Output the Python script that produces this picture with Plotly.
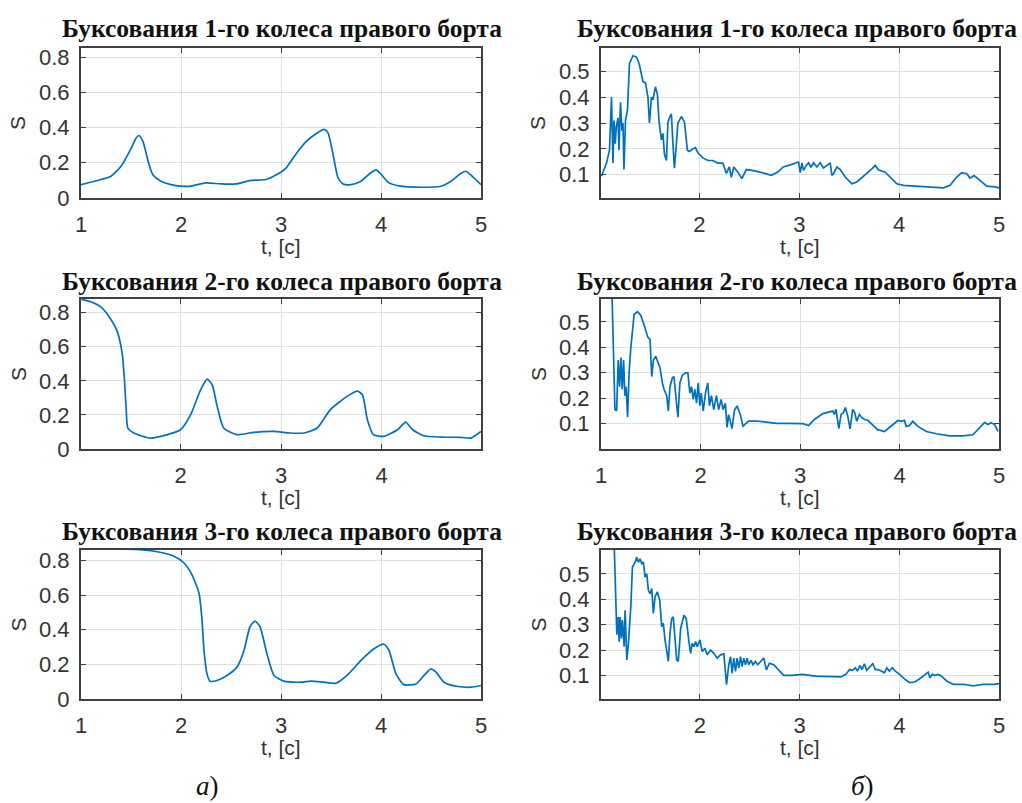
import plotly.graph_objects as go

# ---------------- data ----------------
t_a1 = [1.0, 1.2, 1.3, 1.4, 1.5, 1.55, 1.58, 1.62, 1.68, 1.72, 1.8, 1.9, 2.0, 2.1, 2.25, 2.4, 2.55, 2.7,
        2.85, 2.95, 3.05, 3.15, 3.25, 3.35, 3.43, 3.47, 3.52, 3.57, 3.62, 3.7, 3.8, 3.88, 3.95, 4.0, 4.08,
        4.2, 4.4, 4.6, 4.7, 4.8, 4.85, 4.9, 5.0]
s_a1 = [0.076, 0.105, 0.124, 0.18, 0.28, 0.34, 0.355, 0.32, 0.19, 0.13, 0.095, 0.076, 0.067, 0.067, 0.086,
        0.08, 0.08, 0.1, 0.105, 0.13, 0.17, 0.25, 0.32, 0.365, 0.39, 0.37, 0.25, 0.115, 0.08, 0.076, 0.095,
        0.135, 0.16, 0.135, 0.086, 0.067, 0.061, 0.067, 0.095, 0.14, 0.152, 0.13, 0.076]

t_a2 = [1.015, 1.105, 1.204, 1.30, 1.37, 1.42, 1.44, 1.46, 1.476, 1.535, 1.70, 1.87, 2.0, 2.1, 2.2, 2.265,
        2.315, 2.365, 2.43, 2.56, 2.73, 2.93, 3.09, 3.23, 3.36, 3.49, 3.66, 3.76, 3.81, 3.86, 3.92, 4.02,
        4.16, 4.24, 4.31, 4.42, 4.59, 4.79, 4.89, 4.99]
s_a2 = [0.878, 0.864, 0.835, 0.767, 0.69, 0.56, 0.425, 0.23, 0.123, 0.094, 0.064, 0.084, 0.113, 0.2, 0.347,
        0.41, 0.377, 0.25, 0.123, 0.084, 0.098, 0.103, 0.094, 0.094, 0.123, 0.23, 0.31, 0.34, 0.318, 0.17,
        0.084, 0.074, 0.113, 0.158, 0.113, 0.078, 0.07, 0.068, 0.064, 0.103]

t_a3 = [1.34, 1.59, 1.79, 1.93, 2.03, 2.11, 2.18, 2.21, 2.23, 2.26, 2.29, 2.36, 2.46, 2.56, 2.63, 2.69,
        2.74, 2.79, 2.86, 2.93, 3.03, 3.2, 3.3, 3.43, 3.55, 3.66, 3.8, 3.93, 4.03, 4.08, 4.15, 4.23, 4.35,
        4.43, 4.5, 4.55, 4.63, 4.77, 4.9, 5.0]
s_a3 = [0.866, 0.862, 0.847, 0.824, 0.785, 0.717, 0.61, 0.455, 0.28, 0.145, 0.103, 0.107, 0.136, 0.184,
        0.28, 0.417, 0.45, 0.417, 0.26, 0.136, 0.103, 0.097, 0.103, 0.097, 0.091, 0.136, 0.223, 0.29, 0.316,
        0.28, 0.145, 0.083, 0.087, 0.136, 0.174, 0.155, 0.097, 0.072, 0.068, 0.078]

t_b1 = [1.02, 1.07, 1.10, 1.12, 1.135, 1.145, 1.158, 1.168, 1.185, 1.195, 1.21, 1.225, 1.235, 1.245, 1.26,
        1.28, 1.30, 1.335, 1.37, 1.40, 1.435, 1.46, 1.485, 1.50, 1.52, 1.535, 1.56, 1.58, 1.595, 1.62,
        1.635, 1.65, 1.67, 1.685, 1.70, 1.72, 1.735, 1.75, 1.77, 1.785, 1.82, 1.85, 1.88, 1.90, 1.935,
        1.96, 1.985, 2.035, 2.085, 2.135, 2.185, 2.235, 2.27, 2.30, 2.32, 2.345, 2.385, 2.425, 2.47,
        2.555, 2.655, 2.72, 2.785, 2.84, 2.91, 2.96, 2.993, 3.01, 3.027, 3.043, 3.07, 3.093, 3.117,
        3.143, 3.177, 3.21, 3.243, 3.277, 3.31, 3.327, 3.343, 3.377, 3.41, 3.46, 3.527, 3.577, 3.677,
        3.727, 3.76, 3.793, 3.86, 3.91, 3.977, 4.043, 4.177, 4.31, 4.443, 4.51, 4.577, 4.627, 4.677,
        4.71, 4.75, 4.81, 4.877, 4.96, 5.0]
s_b1 = [0.094, 0.145, 0.195, 0.40, 0.145, 0.31, 0.22, 0.285, 0.32, 0.195, 0.38, 0.27, 0.30, 0.12, 0.31,
        0.35, 0.53, 0.56, 0.555, 0.525, 0.46, 0.455, 0.40, 0.30, 0.40, 0.39, 0.44, 0.41, 0.31, 0.235,
        0.26, 0.18, 0.155, 0.30, 0.32, 0.335, 0.22, 0.125, 0.22, 0.30, 0.325, 0.305, 0.195, 0.19, 0.20,
        0.205, 0.185, 0.165, 0.155, 0.155, 0.145, 0.145, 0.105, 0.13, 0.09, 0.13, 0.11, 0.085, 0.12,
        0.115, 0.105, 0.098, 0.11, 0.13, 0.138, 0.146, 0.149, 0.108, 0.146, 0.117, 0.136, 0.146, 0.129,
        0.146, 0.13, 0.146, 0.126, 0.136, 0.146, 0.097, 0.104, 0.13, 0.12, 0.091, 0.065, 0.072, 0.104,
        0.123, 0.136, 0.119, 0.11, 0.091, 0.065, 0.059, 0.056, 0.053, 0.049, 0.059, 0.091, 0.108, 0.104,
        0.087, 0.097, 0.078, 0.056, 0.053, 0.049]

t_b2 = [1.11, 1.127, 1.14, 1.157, 1.173, 1.187, 1.20, 1.213, 1.227, 1.24, 1.253, 1.267, 1.283, 1.30, 1.333,
        1.367, 1.40, 1.44, 1.47, 1.493, 1.51, 1.527, 1.55, 1.573, 1.593, 1.617, 1.633, 1.66, 1.677, 1.693,
        1.717, 1.733, 1.757, 1.773, 1.793, 1.817, 1.85, 1.873, 1.893, 1.91, 1.927, 1.943, 1.96, 1.977,
        1.993, 2.007, 2.027, 2.05, 2.073, 2.09, 2.11, 2.133, 2.16, 2.183, 2.207, 2.227, 2.25, 2.267,
        2.283, 2.30, 2.317, 2.34, 2.367, 2.40, 2.427, 2.45, 2.483, 2.567, 2.667, 2.767, 2.867, 3.027,
        3.087, 3.144, 3.23, 3.295, 3.33, 3.345, 3.362, 3.39, 3.413, 3.436, 3.456, 3.48, 3.503, 3.53,
        3.55, 3.57, 3.597, 3.624, 3.648, 3.681, 3.73, 3.78, 3.85, 3.916, 3.983, 4.017, 4.05, 4.067, 4.1,
        4.134, 4.185, 4.27, 4.37, 4.503, 4.638, 4.738, 4.805, 4.856, 4.89, 4.92, 4.956, 4.99]
s_b2 = [0.62, 0.40, 0.155, 0.15, 0.35, 0.245, 0.36, 0.235, 0.35, 0.21, 0.245, 0.125, 0.305, 0.40, 0.53,
        0.54, 0.525, 0.48, 0.44, 0.43, 0.285, 0.35, 0.365, 0.34, 0.32, 0.26, 0.235, 0.21, 0.15, 0.245,
        0.28, 0.285, 0.18, 0.125, 0.26, 0.29, 0.30, 0.30, 0.22, 0.245, 0.195, 0.235, 0.18, 0.26, 0.17,
        0.22, 0.15, 0.22, 0.26, 0.17, 0.21, 0.155, 0.21, 0.155, 0.195, 0.155, 0.18, 0.085, 0.135, 0.105,
        0.08, 0.15, 0.17, 0.135, 0.09, 0.098, 0.11, 0.11, 0.106, 0.101, 0.101, 0.1, 0.092, 0.116, 0.139,
        0.145, 0.149, 0.136, 0.156, 0.08, 0.136, 0.143, 0.163, 0.129, 0.079, 0.156, 0.143, 0.109, 0.136,
        0.123, 0.116, 0.113, 0.096, 0.076, 0.069, 0.089, 0.112, 0.109, 0.113, 0.089, 0.092, 0.109, 0.089,
        0.069, 0.06, 0.052, 0.052, 0.056, 0.083, 0.105, 0.096, 0.103, 0.096, 0.069]

t_b3 = [1.14, 1.157, 1.167, 1.18, 1.19, 1.20, 1.213, 1.223, 1.24, 1.25, 1.267, 1.283, 1.307, 1.323, 1.35,
        1.367, 1.383, 1.40, 1.417, 1.433, 1.45, 1.467, 1.483, 1.50, 1.517, 1.533, 1.55, 1.573, 1.597,
        1.617, 1.633, 1.65, 1.667, 1.683, 1.70, 1.717, 1.733, 1.75, 1.767, 1.783, 1.807, 1.84, 1.863,
        1.89, 1.907, 1.923, 1.94, 1.957, 1.973, 2.0, 2.023, 2.05, 2.073, 2.107, 2.14, 2.173, 2.207,
        2.24, 2.267, 2.29, 2.307, 2.323, 2.34, 2.357, 2.373, 2.39, 2.407, 2.423, 2.44, 2.457, 2.473,
        2.49, 2.513, 2.533, 2.557, 2.58, 2.607, 2.64, 2.667, 2.697, 2.74, 2.79, 2.84, 2.926, 3.027,
        3.16, 3.296, 3.414, 3.465, 3.5, 3.53, 3.56, 3.58, 3.606, 3.626, 3.65, 3.673, 3.7, 3.734, 3.76,
        3.785, 3.818, 3.85, 3.875, 3.9, 3.93, 3.96, 4.003, 4.054, 4.104, 4.155, 4.205, 4.256, 4.29,
        4.306, 4.33, 4.357, 4.39, 4.424, 4.475, 4.54, 4.643, 4.744, 4.845, 4.946, 5.0]
s_b3 = [0.62, 0.41, 0.26, 0.33, 0.233, 0.33, 0.246, 0.318, 0.213, 0.357, 0.161, 0.226, 0.37, 0.526,
        0.546, 0.565, 0.546, 0.559, 0.54, 0.546, 0.487, 0.50, 0.435, 0.422, 0.442, 0.344, 0.409, 0.429,
        0.396, 0.292, 0.305, 0.24, 0.187, 0.155, 0.266, 0.324, 0.331, 0.24, 0.161, 0.155, 0.285, 0.337,
        0.324, 0.233, 0.187, 0.226, 0.213, 0.233, 0.213, 0.24, 0.194, 0.207, 0.181, 0.20, 0.187, 0.168,
        0.181, 0.185, 0.064, 0.142, 0.174, 0.109, 0.168, 0.116, 0.168, 0.129, 0.174, 0.135, 0.168, 0.142,
        0.168, 0.142, 0.159, 0.142, 0.155, 0.142, 0.155, 0.168, 0.122, 0.148, 0.142, 0.123, 0.1, 0.1,
        0.104, 0.097, 0.095, 0.094, 0.104, 0.123, 0.12, 0.13, 0.117, 0.139, 0.123, 0.146, 0.12, 0.13,
        0.146, 0.123, 0.123, 0.117, 0.11, 0.13, 0.117, 0.13, 0.117, 0.104, 0.085, 0.072, 0.074, 0.087,
        0.104, 0.113, 0.091, 0.104, 0.1, 0.104, 0.097, 0.078, 0.065, 0.065, 0.059, 0.065, 0.065, 0.068]

titles = ["Буксования 1-го колеса правого борта",
          "Буксования 1-го колеса правого борта",
          "Буксования 2-го колеса правого борта",
          "Буксования 2-го колеса правого борта",
          "Буксования 3-го колеса правого борта",
          "Буксования 3-го колеса правого борта"]
x_ticks = [1, 2, 3, 4, 5]
y_ticks_a = [0, 0.2, 0.4, 0.6, 0.8]
y_ticks_a_text = ["0", "0.2", "0.4", "0.6", "0.8"]
y_ticks_b = [0.1, 0.2, 0.3, 0.4, 0.5]
y_ticks_b_text = ["0.1", "0.2", "0.3", "0.4", "0.5"]
x_title = "t, [c]"
y_title = "S"
col_labels = ["<i>а</i>)", "<i>б</i>)"]

series = [(t_a1, s_a1), (t_b1, s_b1), (t_a2, s_a2), (t_b2, s_b2), (t_a3, s_a3), (t_b3, s_b3)]
x_ranges = [[1, 5], [1.015, 5], [1.01, 4.99], [1, 5], [1, 5], [1.008, 5]]
y_ranges = [[0, 0.852], [0.01, 0.59], [0, 0.88], [0.0, 0.59], [0, 0.86], [0.007, 0.594]]

# ---------------- layout geometry (pixels) ----------------
W, H = 1022, 803
col_x = [(81, 481), (601, 999)]
row_y = [(48, 198), (299, 449), (550, 699)]
title_y = [28, 281, 531]
title_cx = [282, 797]

LINE = "#0072BD"
AX = "#404040"
TXT = "#333333"
GRID = "#e0e0e0"
SANS = "Liberation Sans, Arial, sans-serif"
SERIF = "Liberation Serif, Times New Roman, serif"

fig = go.Figure()
annotations = []
layout = dict(width=W, height=H, autosize=False,
              margin=dict(l=0, r=0, t=0, b=0, pad=0, autoexpand=False),
              paper_bgcolor="white", plot_bgcolor="white", showlegend=False)

for i, (tx, sy) in enumerate(series):
    r, c = divmod(i, 2)
    n = "" if i == 0 else str(i + 1)
    shape = "spline" if c == 0 else "linear"
    fig.add_trace(go.Scatter(x=tx, y=sy, mode="lines",
                             line=dict(color=LINE, width=1.7, shape=shape, smoothing=0.6),
                             xaxis="x" + n, yaxis="y" + n, hoverinfo="skip"))
    x0, x1 = col_x[c]
    yt, yb = row_y[r]
    common = dict(showline=True, linecolor=AX, linewidth=2, mirror="ticks",
                  ticks="inside", ticklen=5, tickcolor=AX, tickwidth=1,
                  showgrid=True, gridcolor=GRID, gridwidth=1, zeroline=False,
                  automargin=False,
                  tickfont=dict(family=SANS, size=22, color=TXT))
    layout["xaxis" + n] = dict(domain=[x0 / W, x1 / W], range=x_ranges[i], anchor="y" + n,
                               tickvals=x_ticks, ticktext=[str(v) for v in x_ticks],
                               ticklabelstandoff=6, **common)
    if c == 0:
        yv, ytxt = y_ticks_a, y_ticks_a_text
    else:
        yv, ytxt = y_ticks_b, y_ticks_b_text
    layout["yaxis" + n] = dict(domain=[1 - yb / H, 1 - yt / H], range=y_ranges[i], anchor="x" + n,
                               tickvals=yv, ticktext=ytxt, ticklabelstandoff=5, **common)
    # subplot title
    annotations.append(dict(text="<b>" + titles[i] + "</b>", x=title_cx[c] / W,
                            y=1 - title_y[r] / H, xref="paper", yref="paper",
                            xanchor="center", yanchor="middle", showarrow=False,
                            font=dict(family=SERIF, size=25.5, color="#111111")))
    # x-axis title
    annotations.append(dict(text=x_title, x=((x0 + x1) / 2) / W, y=1 - (yb + 48) / H,
                            xref="paper", yref="paper", xanchor="center", yanchor="middle",
                            showarrow=False, font=dict(family=SANS, size=21, color=TXT)))
    # y-axis title
    annotations.append(dict(text=y_title, x=(x0 - 63) / W, y=1 - ((yt + yb) / 2) / H,
                            xref="paper", yref="paper", xanchor="center", yanchor="middle",
                            textangle=-90, showarrow=False,
                            font=dict(family=SANS, size=21, color=TXT)))

for lbl, px in zip(col_labels, [207, 862]):
    annotations.append(dict(text=lbl, x=px / W, y=1 - 786 / H, xref="paper", yref="paper",
                            xanchor="center", yanchor="middle", showarrow=False,
                            font=dict(family=SERIF, size=27, color="#111111")))

layout["annotations"] = annotations
fig.update_layout(**layout)
fig.write_html("out.html", config={"displayModeBar": False},
               post_script="document.body.style.margin='0px';document.body.style.overflow='hidden';")
